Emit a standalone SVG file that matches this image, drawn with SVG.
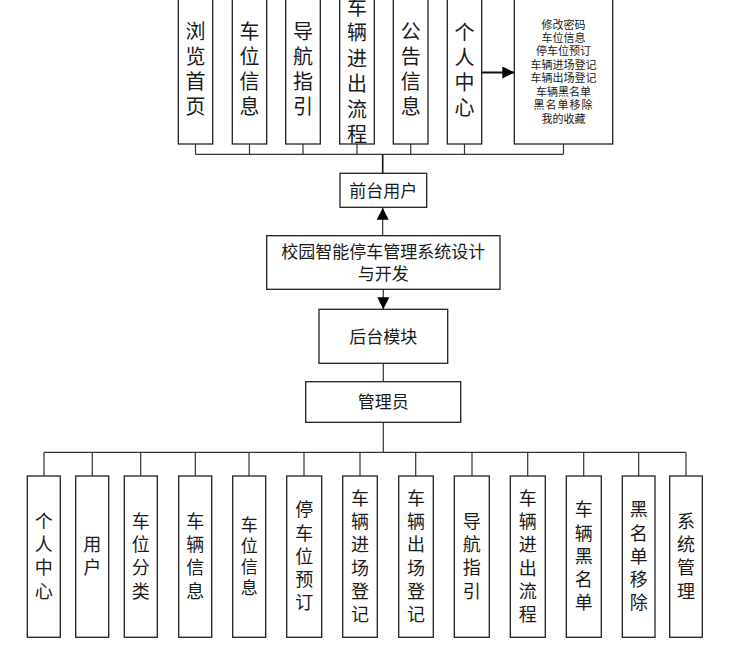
<svg xmlns="http://www.w3.org/2000/svg" width="738" height="647" viewBox="0 0 738 647">
<style>
.box{fill:#fff;stroke:#222;stroke-width:1.3}
.ln{fill:none;stroke:#333;stroke-width:1.2}
.thick{fill:none;stroke:#111;stroke-width:2}
text{font-family:"Noto Sans CJK SC","Noto Sans",sans-serif;fill:#1a1a1a;text-anchor:middle}
.t20{font-size:20px}
.t18{font-size:18px}
.t17{font-size:17px}
.t11{font-size:11px}
</style>
<defs>
<marker id="ah" markerUnits="userSpaceOnUse" markerWidth="12" markerHeight="12" viewBox="0 0 12 12" refX="12" refY="6" orient="auto">
<path d="M0,0 L12,6 L0,12 Z" fill="#000"/>
</marker>
</defs>
<rect width="738" height="647" fill="#fff"/>

<g id="connectors">
<path class="ln" d="M195.5,144 V154.3 M249.5,144 V154.3 M303,144 V154.3 M357,144 V154.3 M410.7,144 V154.3 M464.5,144 V154.3 M563.5,144 V154.3 M195.5,154.3 H563.5"/>
<path class="thick" d="M382.7,154.3 V173.3" style="stroke-width:1.6"/>
<path class="thick" d="M481.7,72.5 H514.3" marker-end="url(#ah)"/>
<path class="ln" d="M382.7,235.7 V207.8" marker-end="url(#ah)"/>
<path class="ln" d="M383.3,289.3 V309.3" marker-end="url(#ah)"/>
<path class="ln" d="M383.3,363.3 V381.7 M383.3,422.3 V452.3"/>
<path class="ln" d="M44,452.3 H686 M44,452.3 V476 M92.3,452.3 V476 M140.7,452.3 V476 M195.3,452.3 V476 M249,452.3 V476 M304,452.3 V476 M360,452.3 V476 M415.7,452.3 V476 M472,452.3 V476 M527.7,452.3 V476 M583.7,452.3 V476 M638.7,452.3 V476 M686,452.3 V476"/>
</g>

<g id="top-liulan"><rect class="box" x="178.3" y="-10" width="34.4" height="154"/>
<text class="t20"><tspan x="195.5" y="39.1">浏</tspan><tspan x="195.5" dy="25">览</tspan><tspan x="195.5" dy="25">首</tspan><tspan x="195.5" dy="25">页</tspan></text></g>
<g id="top-chewei"><rect class="box" x="232.3" y="-10" width="34.4" height="154"/>
<text class="t20"><tspan x="249.5" y="39.1">车</tspan><tspan x="249.5" dy="25">位</tspan><tspan x="249.5" dy="25">信</tspan><tspan x="249.5" dy="25">息</tspan></text></g>
<g id="top-daohang"><rect class="box" x="285.7" y="-10" width="34.6" height="154"/>
<text class="t20"><tspan x="303" y="39.1">导</tspan><tspan x="303" dy="25">航</tspan><tspan x="303" dy="25">指</tspan><tspan x="303" dy="25">引</tspan></text></g>
<g id="top-liucheng"><rect class="box" x="339.7" y="-10" width="34.6" height="154"/>
<text class="t20"><tspan x="357" y="14.6">车</tspan><tspan x="357" dy="25.5">辆</tspan><tspan x="357" dy="25.5">进</tspan><tspan x="357" dy="25.5">出</tspan><tspan x="357" dy="25.5">流</tspan><tspan x="357" dy="25.5">程</tspan></text></g>
<g id="top-gonggao"><rect class="box" x="393.3" y="-10" width="34.7" height="154"/>
<text class="t20"><tspan x="410.7" y="39.1">公</tspan><tspan x="410.7" dy="25">告</tspan><tspan x="410.7" dy="25">信</tspan><tspan x="410.7" dy="25">息</tspan></text></g>
<g id="top-geren"><rect class="box" x="447.3" y="-10" width="34.4" height="154"/>
<text class="t20"><tspan x="464.5" y="39.6">个</tspan><tspan x="464.5" dy="25">人</tspan><tspan x="464.5" dy="25">中</tspan><tspan x="464.5" dy="25">心</tspan></text></g>
<g id="top-geren-detail"><rect class="box" x="514.3" y="-10" width="98.4" height="154"/>
<text class="t11"><tspan x="563.5" y="28.5">修改密码</tspan><tspan x="563.5" dy="13.43">车位信息</tspan><tspan x="563.5" dy="13.43">停车位预订</tspan><tspan x="563.5" dy="13.43">车辆进场登记</tspan><tspan x="563.5" dy="13.43">车辆出场登记</tspan><tspan x="563.5" dy="13.43">车辆黑名单</tspan><tspan x="563.5" dy="13.43" letter-spacing="1">黑名单移除</tspan><tspan x="563.5" dy="13.43">我的收藏</tspan></text></g>

<g id="qiantai"><rect class="box" x="340" y="173.3" width="86.7" height="34"/>
<text class="t17" x="383.3" y="196.8">前台用户</text></g>
<g id="root"><rect class="box" x="266.7" y="235.7" width="233.3" height="53.6"/>
<text class="t17"><tspan x="383.3" y="258.2">校园智能停车管理系统设计</tspan><tspan x="383.3" y="279.8">与开发</tspan></text></g>
<g id="houtai"><rect class="box" x="319" y="309.3" width="128.7" height="54"/>
<text class="t17" x="383.3" y="343">后台模块</text></g>
<g id="guanliyuan"><rect class="box" x="305.7" y="381.7" width="155" height="40.6"/>
<text class="t17" x="383.3" y="408.2">管理员</text></g>

<g id="b-geren"><rect class="box" x="27.3" y="476" width="33" height="161.3"/>
<text class="t18"><tspan x="43.8" y="527.8">个</tspan><tspan x="43.8" dy="23.3">人</tspan><tspan x="43.8" dy="23.3">中</tspan><tspan x="43.8" dy="23.3">心</tspan></text></g>
<g id="b-yonghu"><rect class="box" x="75.7" y="476" width="33" height="161.3"/>
<text class="t18"><tspan x="92.2" y="551.1">用</tspan><tspan x="92.2" dy="23.3">户</tspan></text></g>
<g id="b-cheweifenlei"><rect class="box" x="124.3" y="476" width="33" height="161.3"/>
<text class="t18"><tspan x="140.8" y="527.8">车</tspan><tspan x="140.8" dy="23.3">位</tspan><tspan x="140.8" dy="23.3">分</tspan><tspan x="140.8" dy="23.3">类</tspan></text></g>
<g id="b-cheliangxinxi"><rect class="box" x="178.7" y="476" width="33" height="161.3"/>
<text class="t18"><tspan x="195.2" y="527.8">车</tspan><tspan x="195.2" dy="23.3">辆</tspan><tspan x="195.2" dy="23.3">信</tspan><tspan x="195.2" dy="23.3">息</tspan></text></g>
<g id="b-cheweixinxi"><rect class="box" x="232.7" y="476" width="33" height="161.3"/>
<text class="t17"><tspan x="249.2" y="531">车</tspan><tspan x="249.2" dy="21">位</tspan><tspan x="249.2" dy="21">信</tspan><tspan x="249.2" dy="21">息</tspan></text></g>
<g id="b-yuding"><rect class="box" x="286.7" y="476" width="35" height="161.3"/>
<text class="t18"><tspan x="304.2" y="516.2">停</tspan><tspan x="304.2" dy="23.3">车</tspan><tspan x="304.2" dy="23.3">位</tspan><tspan x="304.2" dy="23.3">预</tspan><tspan x="304.2" dy="23.3">订</tspan></text></g>
<g id="b-jinchang"><rect class="box" x="342.7" y="476" width="34.6" height="161.3"/>
<text class="t18"><tspan x="360" y="504.6">车</tspan><tspan x="360" dy="23.3">辆</tspan><tspan x="360" dy="23.3">进</tspan><tspan x="360" dy="23.3">场</tspan><tspan x="360" dy="23.3">登</tspan><tspan x="360" dy="23.3">记</tspan></text></g>
<g id="b-chuchang"><rect class="box" x="398.7" y="476" width="34.6" height="161.3"/>
<text class="t18"><tspan x="416" y="504.6">车</tspan><tspan x="416" dy="23.3">辆</tspan><tspan x="416" dy="23.3">出</tspan><tspan x="416" dy="23.3">场</tspan><tspan x="416" dy="23.3">登</tspan><tspan x="416" dy="23.3">记</tspan></text></g>
<g id="b-daohang"><rect class="box" x="454.3" y="476" width="35" height="161.3"/>
<text class="t18"><tspan x="471.8" y="527.8">导</tspan><tspan x="471.8" dy="23.3">航</tspan><tspan x="471.8" dy="23.3">指</tspan><tspan x="471.8" dy="23.3">引</tspan></text></g>
<g id="b-liucheng"><rect class="box" x="510.3" y="476" width="35" height="161.3"/>
<text class="t18"><tspan x="527.8" y="504.6">车</tspan><tspan x="527.8" dy="23.3">辆</tspan><tspan x="527.8" dy="23.3">进</tspan><tspan x="527.8" dy="23.3">出</tspan><tspan x="527.8" dy="23.3">流</tspan><tspan x="527.8" dy="23.3">程</tspan></text></g>
<g id="b-heimingdan"><rect class="box" x="566.3" y="476" width="35" height="161.3"/>
<text class="t18"><tspan x="583.8" y="516.2">车</tspan><tspan x="583.8" dy="23.3">辆</tspan><tspan x="583.8" dy="23.3">黑</tspan><tspan x="583.8" dy="23.3">名</tspan><tspan x="583.8" dy="23.3">单</tspan></text></g>
<g id="b-yichu"><rect class="box" x="622.3" y="476" width="32.7" height="161.3"/>
<text class="t18"><tspan x="638.7" y="516.2">黑</tspan><tspan x="638.7" dy="23.3">名</tspan><tspan x="638.7" dy="23.3">单</tspan><tspan x="638.7" dy="23.3">移</tspan><tspan x="638.7" dy="23.3">除</tspan></text></g>
<g id="b-xitong"><rect class="box" x="669.7" y="476" width="32.6" height="161.3"/>
<text class="t18"><tspan x="686" y="527.8">系</tspan><tspan x="686" dy="23.3">统</tspan><tspan x="686" dy="23.3">管</tspan><tspan x="686" dy="23.3">理</tspan></text></g>
</svg>
